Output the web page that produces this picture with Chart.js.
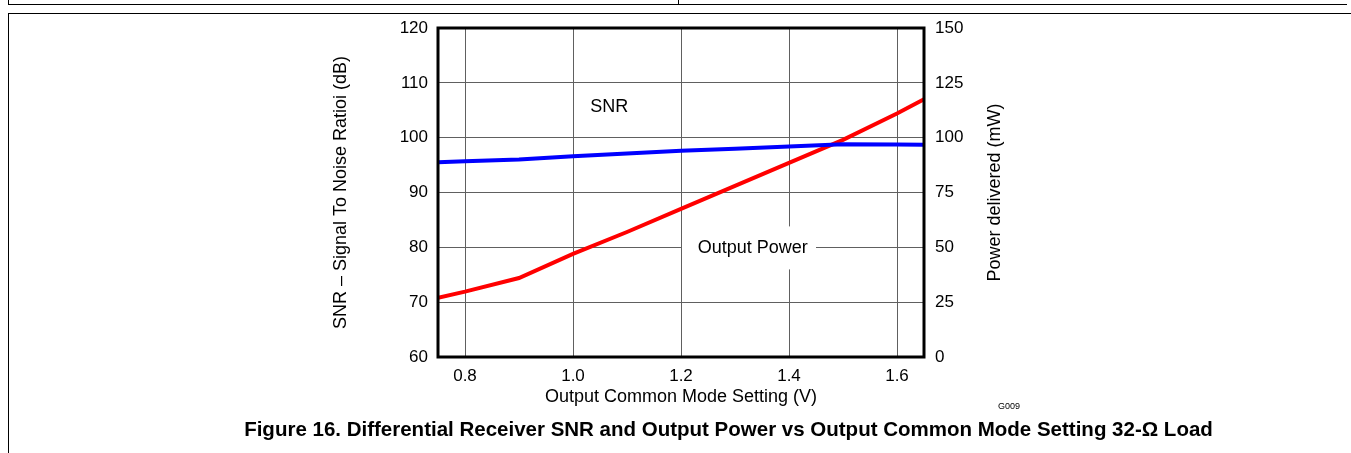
<!DOCTYPE html>
<html>
<head>
<meta charset="utf-8">
<script src="https://cdn.jsdelivr.net/npm/chart.js@4"></script>
<style>
  html, body { margin: 0; padding: 0; background: #fff; }
  body { width: 1351px; height: 453px; position: relative; overflow: hidden; font-family: "Liberation Sans", Arial, sans-serif; }
  #wrap { position: absolute; left: 0; top: 0; width: 1351px; height: 453px; }
  .ln { position: absolute; background: #000; }
  #caption { position: absolute; left: 106px; width: 1245px; top: 417px; text-align: center; font-weight: bold; font-size: 20.5px; color: #000; white-space: nowrap; }
  #gid { position: absolute; left: 998px; top: 401px; font-size: 9px; color: #000; }
</style>
</head>
<body>
<!-- page frame lines -->
<div class="ln" style="left:8px;top:0;width:1px;height:5px"></div>
<div class="ln" style="left:678px;top:0;width:1px;height:5px"></div>
<div class="ln" style="left:8px;top:4px;width:1339px;height:1px"></div>
<div class="ln" style="left:8px;top:13px;width:1343px;height:1px"></div>
<div class="ln" style="left:8px;top:13px;width:1px;height:440px"></div>

<div id="wrap"><canvas id="chart" width="1351" height="453"></canvas></div>
<div id="gid">G009</div>
<div id="caption">Figure 16. Differential Receiver SNR and Output Power vs Output Common Mode Setting 32-Ω Load</div>

<script>
// Data
const vcm = [0.75, 0.8, 0.9, 1.0, 1.1, 1.2, 1.3, 1.4, 1.5, 1.6, 1.65];
const snrDb = [95.5, 95.7, 96.0, 96.6, 97.1, 97.6, 98.0, 98.4, 98.8, 98.75, 98.7];
const powerMw = [27.0, 29.8, 36.0, 47.0, 57.0, 67.5, 78.0, 88.5, 99.0, 111.0, 117.5];

const xTicks = [0.8, 1.0, 1.2, 1.4, 1.6];
const snrTicks = [60, 70, 80, 90, 100, 110, 120];
const powerTicks = [0, 25, 50, 75, 100, 125, 150];

const FONT = '"Liberation Sans", Arial, sans-serif';

// Plot frame, white label boxes and right axis title
const decorations = {
  id: 'decorations',
  beforeDatasetsDraw(chart) {
    const {ctx, scales: {x, y}} = chart;
    ctx.save();
    ctx.fillStyle = '#fff';
    // SNR label box
    ctx.fillRect(x.getPixelForValue(1.0) + 1, y.getPixelForValue(110) + 1, 63, 43);
    // Output Power label box
    ctx.fillRect(x.getPixelForValue(1.2) + 1, y.getPixelForValue(84) + 1, 134, 43);
    ctx.fillStyle = '#000';
    ctx.font = '18px ' + FONT;
    ctx.textAlign = 'center';
    ctx.textBaseline = 'middle';
    ctx.fillText('SNR', x.getPixelForValue(1.067), y.getPixelForValue(105.6));
    ctx.fillText('Output Power', x.getPixelForValue(1.333), y.getPixelForValue(79.8));
    ctx.restore();
  },
  afterDraw(chart) {
    const {ctx, chartArea: a} = chart;
    ctx.save();
    ctx.strokeStyle = '#000';
    ctx.lineWidth = 3;
    ctx.strokeRect(a.left, a.top, a.right - a.left, a.bottom - a.top);
    ctx.translate(995, (a.top + a.bottom) / 2);
    ctx.rotate(-Math.PI / 2);
    ctx.fillStyle = '#000';
    ctx.font = '18px ' + FONT;
    ctx.textAlign = 'center';
    ctx.textBaseline = 'middle';
    ctx.fillText('Power delivered (mW)', 0, 0);
    ctx.restore();
  }
};

const setTicks = list => scale => { scale.ticks = list.map(v => ({value: v})); };

new Chart(document.getElementById('chart'), {
  type: 'line',
  data: {
    datasets: [
      {
        label: 'SNR',
        data: vcm.map((v, i) => ({x: v, y: snrDb[i]})),
        borderColor: '#0000ff',
        borderWidth: 4,
        yAxisID: 'y'
      },
      {
        label: 'Output Power',
        data: vcm.map((v, i) => ({x: v, y: powerMw[i]})),
        borderColor: '#ff0000',
        borderWidth: 4,
        yAxisID: 'y2'
      }
    ]
  },
  options: {
    responsive: false,
    animation: false,
    devicePixelRatio: 1,
    layout: { padding: { left: 320, right: 341, top: 28, bottom: 36 } },
    elements: { point: { radius: 0 }, line: { tension: 0 } },
    plugins: { legend: { display: false }, tooltip: { enabled: false } },
    scales: {
      x: {
        type: 'linear',
        min: 0.75,
        max: 1.65,
        afterBuildTicks: setTicks(xTicks),
        afterFit: s => { s.height = 60; },
        grid: { color: '#606060', lineWidth: 1, drawTicks: false },
        border: { display: false },
        ticks: { color: '#000', font: { family: FONT, size: 17 }, padding: 9, callback: v => v.toFixed(1) },
        title: { display: true, text: 'Output Common Mode Setting (V)', color: '#000', font: { family: FONT, size: 18 }, padding: { top: 0, bottom: 9 } }
      },
      y: {
        position: 'left',
        min: 60,
        max: 120,
        afterBuildTicks: setTicks(snrTicks),
        afterFit: s => { s.width = 118; },
        grid: { color: '#606060', lineWidth: 1, drawTicks: false },
        border: { display: false },
        ticks: { color: '#000', font: { family: FONT, size: 17 }, padding: 10 },
        title: { display: true, text: 'SNR – Signal To Noise Ratioi (dB)', color: '#000', font: { family: FONT, size: 18 }, padding: { top: 10, bottom: 0 } }
      },
      y2: {
        position: 'right',
        min: 0,
        max: 150,
        afterBuildTicks: setTicks(powerTicks),
        afterFit: s => { s.width = 86; },
        grid: { display: false, drawTicks: false },
        border: { display: false },
        ticks: { color: '#000', font: { family: FONT, size: 17 }, padding: 11 }
      }
    }
  },
  plugins: [decorations]
});
</script>
</body>
</html>
